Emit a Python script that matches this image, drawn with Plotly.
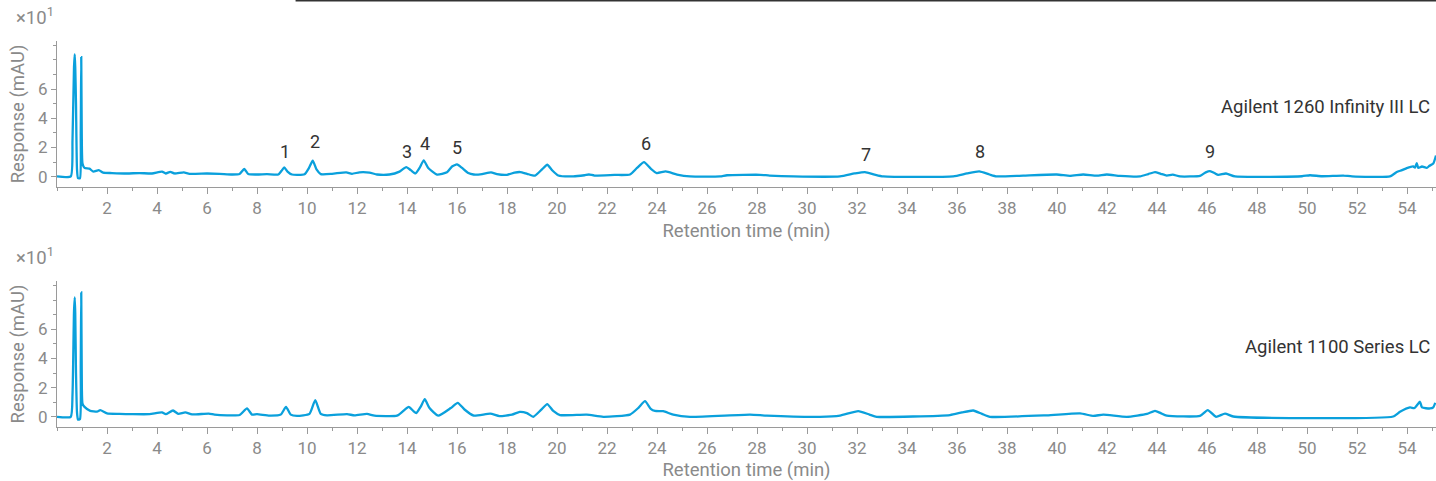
import plotly.graph_objects as go

# Retention time (min) and response (x10 mAU)
time_1260 = [0.0, 0.55, 0.62, 0.68, 0.71, 0.73, 0.76, 0.80, 0.84, 0.92, 0.95, 0.97, 0.99, 1.02, 1.10, 1.30, 1.45, 1.67, 1.85,
             2.2, 2.8, 3.3, 3.8, 4.2, 4.35, 4.53, 4.7, 5.07, 5.3, 6.0, 6.5, 7.0, 7.3, 7.49, 7.65, 8.0, 8.4, 8.85, 8.98, 9.09,
             9.22, 9.4, 9.9, 10.08, 10.23, 10.38, 10.55, 11.0, 11.57, 11.8, 12.1, 12.5, 12.8, 13.3, 13.7, 13.97, 14.15,
             14.33, 14.5, 14.67, 14.85, 15.2, 15.6, 15.8, 16.0, 16.2, 16.45, 16.67, 17.0, 17.36, 17.6, 18.0, 18.3, 18.53,
             18.8, 19.12, 19.4, 19.61, 19.8, 20.05, 20.65, 21.1, 21.28, 21.5, 22.3, 22.92, 23.2, 23.48, 23.75, 23.99,
             24.35, 24.8, 25.32, 26.52, 26.8, 28.12, 28.5, 29.45, 31.32, 31.9, 32.32, 32.7, 33.05, 35.85, 36.4, 36.89,
             37.3, 37.59, 38.65, 39.99, 40.52, 41.05, 41.59, 41.99, 42.52, 43.32, 43.65, 43.92, 44.15, 44.39, 44.63,
             44.92, 45.72, 45.95, 46.12, 46.3, 46.45, 46.76, 47.12, 49.8, 50.12, 50.6, 51.45, 51.8, 53.32, 53.59, 53.8,
             53.99, 54.25, 54.32, 54.39, 54.45, 54.6, 54.79, 54.9, 55.05, 55.16]
resp_1260 = [0.02, 0.02, 2.5, 7.5, 8.4, 7.5, 5.0, 0.5, -0.1, -0.1, 3.0, 8.2, 3.0, 0.9, 0.6, 0.55, 0.35, 0.45, 0.28,
             0.25, 0.22, 0.25, 0.22, 0.35, 0.22, 0.33, 0.22, 0.3, 0.2, 0.22, 0.2, 0.15, 0.18, 0.53, 0.18, 0.15, 0.18, 0.15,
             0.4, 0.64, 0.35, 0.15, 0.17, 0.6, 1.1, 0.5, 0.18, 0.2, 0.3, 0.2, 0.3, 0.28, 0.15, 0.15, 0.35, 0.66, 0.45,
             0.22, 0.6, 1.12, 0.6, 0.15, 0.3, 0.7, 0.84, 0.6, 0.25, 0.15, 0.18, 0.3, 0.18, 0.13, 0.28, 0.32,
             0.2, 0.07, 0.5, 0.82, 0.45, 0.08, 0.02, 0.1, 0.15, 0.08, 0.12, 0.15, 0.6, 1.0, 0.55, 0.25,
             0.36, 0.15, 0.02, 0.02, 0.1, 0.13, 0.08, 0.02, 0.02, 0.22, 0.32, 0.15, 0.02, 0.02, 0.22, 0.36,
             0.15, 0.02, 0.08, 0.15, 0.06, 0.15, 0.07, 0.15, 0.06, 0.02, 0.18, 0.32, 0.2, 0.08, 0.14,
             0.02, 0.06, 0.3, 0.38, 0.25, 0.12, 0.22, 0.02, 0.03, 0.1, 0.03, 0.08, 0.02, 0.02, 0.32, 0.45,
             0.59, 0.7, 0.62, 0.93, 0.6, 0.7, 0.6, 0.75, 0.9, 1.45]

time_1100 = [0.0, 0.55, 0.62, 0.68, 0.71, 0.73, 0.76, 0.80, 0.84, 0.92, 0.95, 0.97, 0.99, 1.02, 1.10, 1.33, 1.6, 1.73,
             2.0, 2.5, 3.0, 3.7, 4.2, 4.35, 4.64, 4.85, 5.13, 5.4, 6.07, 6.3, 6.8, 7.3, 7.6, 7.8, 8.0, 8.5, 8.95, 9.16,
             9.35, 9.6, 10.1, 10.33, 10.55, 10.8, 11.6, 11.9, 12.4, 12.7, 13.6, 13.85, 14.07, 14.25, 14.37, 14.55, 14.71,
             14.9, 15.25, 15.75, 16.03, 16.3, 16.67, 17.33, 17.7, 18.2, 18.51, 18.8, 19.05, 19.35, 19.61, 19.85, 20.12,
             21.19, 21.85, 22.92, 23.25, 23.52, 23.75, 23.92, 24.25, 24.65, 25.32, 27.72, 28.39, 30.52, 31.32, 32.05,
             32.5, 32.79, 35.72, 36.2, 36.65, 37.0, 37.32, 39.59, 40.92, 41.45, 41.85, 42.79, 43.6, 43.92, 44.15, 44.39,
             45.72, 46.03, 46.36, 46.72, 47.05, 53.45, 53.72, 54.12, 54.3, 54.52, 54.6, 54.92, 55.05, 55.13]
resp_1100 = [0.0, 0.0, 1.5, 7.2, 8.18, 7.1, 3.0, 0.3, -0.2, -0.15, 3.5, 8.52, 3.0, 0.9, 0.68, 0.41, 0.35, 0.45,
             0.23, 0.2, 0.18, 0.18, 0.3, 0.18, 0.43, 0.2, 0.3, 0.16, 0.22, 0.15, 0.1, 0.12, 0.57, 0.15, 0.18, 0.08, 0.15,
             0.68, 0.15, 0.06, 0.2, 1.14, 0.2, 0.1, 0.18, 0.1, 0.2, 0.08, 0.08, 0.4, 0.68, 0.4, 0.25, 0.7, 1.21,
             0.6, 0.08, 0.6, 0.96, 0.5, 0.08, 0.22, 0.05, 0.15, 0.34, 0.25, 0.0, 0.45, 0.87, 0.4, 0.12,
             0.15, 0.0, 0.15, 0.6, 1.07, 0.55, 0.4, 0.38, 0.15, 0.0, 0.15, 0.08, 0.0, 0.08, 0.39,
             0.15, 0.0, 0.12, 0.3, 0.43, 0.2, 0.0, 0.1, 0.23, 0.06, 0.15, 0.0, 0.2, 0.41, 0.25, 0.08,
             0.06, 0.46, 0.0, 0.22, 0.02, 0.02, 0.34, 0.64, 0.6, 1.03, 0.64, 0.57, 0.65, 0.96]

peak_labels = ["1", "2", "3", "4", "5", "6", "7", "8", "9"]
peak_times = [9.1, 10.3, 14.0, 14.7, 16.0, 23.55, 32.35, 36.9, 46.1]
peak_label_y = [1.7, 2.4, 1.7, 2.3, 2.0, 2.3, 1.55, 1.7, 1.7]

x_ticks = list(range(2, 56, 2))
y_ticks = [0, 2, 4, 6]

LINE_COLOR = "#0aa0dc"
GRAY = "#8a8a8a"
AXIS_GRAY = "#9a9a9a"
FONT = "Roboto"

fig = go.Figure()
fig.add_trace(go.Scatter(x=time_1260, y=resp_1260, mode="lines",
                         line=dict(color=LINE_COLOR, width=2.3, shape="spline", smoothing=0.5),
                         xaxis="x", yaxis="y", showlegend=False))
fig.add_trace(go.Scatter(x=time_1100, y=resp_1100, mode="lines",
                         line=dict(color=LINE_COLOR, width=2.3, shape="spline", smoothing=0.5),
                         xaxis="x2", yaxis="y2", showlegend=False))

xaxis_common = dict(range=[0, 55.16], tickvals=x_ticks, ticks="outside", ticklen=6, tickcolor=AXIS_GRAY,
                    showline=True, linecolor=AXIS_GRAY, linewidth=1, showgrid=False, zeroline=False,
                    tickfont=dict(family=FONT, size=17, color=GRAY),
                    minor=dict(dtick=1, tick0=0, ticks="outside", ticklen=3, tickcolor=AXIS_GRAY, showgrid=False),
                    title=dict(text="Retention time (min)", font=dict(family=FONT, size=18.5, color=GRAY), standoff=6))
yaxis_common = dict(range=[-0.7, 9.3], tickvals=y_ticks, ticks="outside", ticklen=5, tickcolor=AXIS_GRAY,
                    showline=True, linecolor=AXIS_GRAY, linewidth=1, showgrid=False, zeroline=False,
                    tickfont=dict(family=FONT, size=17, color=GRAY),
                    minor=dict(dtick=1, tick0=0, ticks="outside", ticklen=3, tickcolor=AXIS_GRAY, showgrid=False),
                    title=dict(text="Response (mAU)", font=dict(family=FONT, size=18.5, color=GRAY), standoff=8))

fig.update_layout(
    width=1436, height=481,
    margin=dict(l=57, r=0, t=41, b=54),
    paper_bgcolor="white", plot_bgcolor="white",
    font=dict(family=FONT),
    xaxis=dict(domain=[0, 1], anchor="y", **xaxis_common),
    yaxis=dict(domain=[0.622, 1], anchor="x", **yaxis_common),
    xaxis2=dict(domain=[0, 1], anchor="y2", **xaxis_common),
    yaxis2=dict(domain=[0, 0.378], anchor="x2", **yaxis_common),
)

annotations = []
for lab, t, yl in zip(peak_labels, peak_times, peak_label_y):
    annotations.append(dict(x=t, y=yl, xref="x", yref="y", text=lab, showarrow=False,
                            font=dict(family=FONT, size=18, color="#333333")))
annotations.append(dict(x=1, y=4.75, xref="paper", yref="y", xanchor="right", text="Agilent 1260 Infinity III LC",
                        showarrow=False, font=dict(family=FONT, size=18.5, color="#333333"), xshift=-4))
annotations.append(dict(x=1, y=4.75, xref="paper", yref="y2", xanchor="right", text="Agilent 1100 Series LC",
                        showarrow=False, font=dict(family=FONT, size=18.5, color="#333333"), xshift=-4))
for ydom in (1.0, 0.378):
    annotations.append(dict(x=-0.016, y=ydom, xref="paper", yref="paper", xanchor="center", yanchor="bottom",
                            text="×10<sup>1</sup>", showarrow=False, yshift=10,
                            font=dict(family=FONT, size=18.5, color=GRAY)))
fig.update_layout(annotations=annotations)

fig.add_shape(type="line", xref="paper", yref="paper", x0=0.173, x1=1.0, y0=1 + 40.5/386, y1=1 + 40.5/386,
              line=dict(color="#333333", width=2))

fig.write_html("out.html", config={"displayModeBar": False},
               post_script="document.body.style.margin='0';")
